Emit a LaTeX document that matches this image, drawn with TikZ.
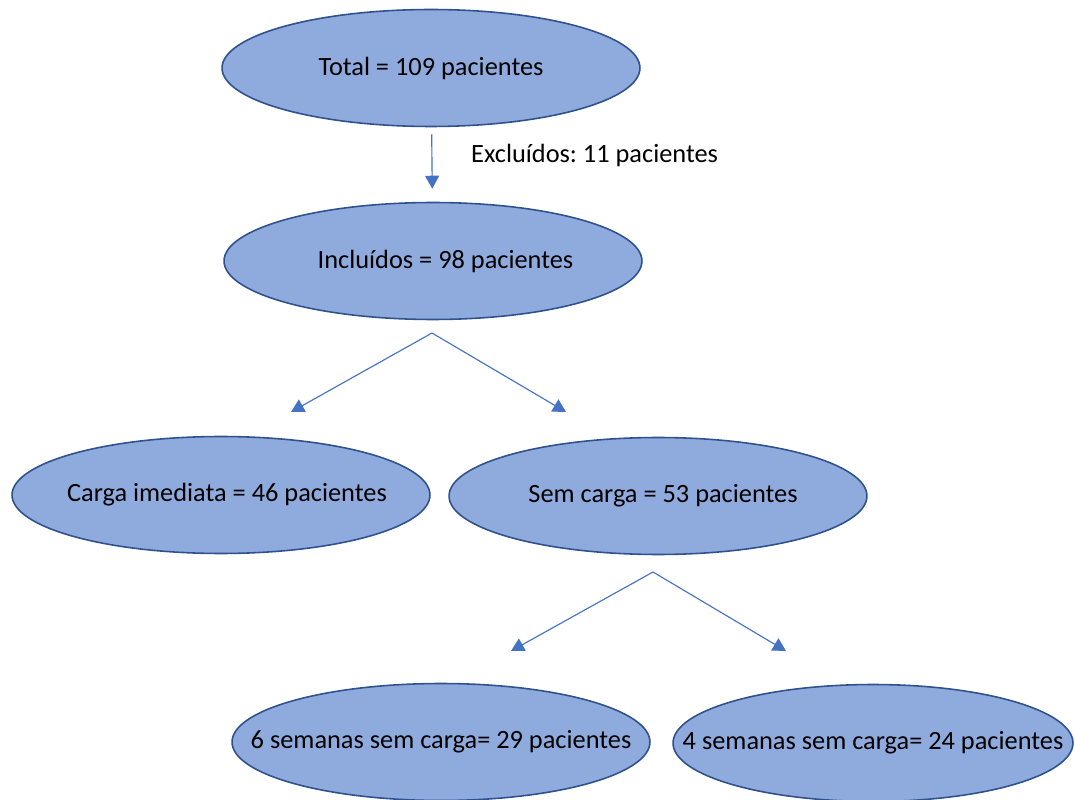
\documentclass[tikz,border=0pt]{standalone}
\usepackage{fontspec}
\setmainfont{Carlito}
\frenchspacing
\usetikzlibrary{shapes.geometric,arrows.meta}
\definecolor{OfficeFill}{HTML}{8FAADC}
\definecolor{OfficeEdge}{HTML}{2F528F}
\definecolor{OfficeBlue}{HTML}{4472C4}

\begin{document}
\begin{tikzpicture}[x=0.02cm,y=-0.02cm,
  grupo/.style={ellipse,draw=OfficeEdge,fill=OfficeFill,line width=0.9pt,
                minimum width=8.36cm,minimum height=2.34cm,inner sep=0pt,
                font=\fontsize{15}{17}\selectfont,
                execute at begin node={\hbox to 0pt\bgroup\hss},
                execute at end node={\hss\egroup}},
  seta/.style={draw=OfficeBlue,line width=0.65pt,
               -{Triangle[width=0.28cm,length=0.26cm]}},
]
\useasboundingbox (0,0) rectangle (1075,800);
\node[grupo] (total) at (431,68) {Total = 109 pacientes};
\node[grupo] (incl) at (433,261) {\hspace*{0.5cm}Incluídos = 98 pacientes};
\node[grupo] (imediata) at (221,495) {\hspace*{0.24cm}Carga imediata = 46 pacientes};
\node[grupo] (semcarga) at (658,496) {\hspace*{0.2cm}Sem carga = 53 pacientes};
\node[grupo] (seis) at (441,742) {6 semanas sem carga= 29 pacientes};
\node[grupo,minimum width=8.0cm] (quatro) at (873,743) {4 semanas sem carga= 24 pacientes};
\node[anchor=west,font=\fontsize{15}{17}\selectfont] (excl) at (465,155) {Excluídos: 11 pacientes};
% ramos sem ponta de partida no contorno
\coordinate (ramo1) at (432,333);
\coordinate (alvo1a) at (291,412);
\coordinate (alvo1b) at (566,412);
\coordinate (ramo2) at (653,572);
\coordinate (alvo2a) at (511,651);
\coordinate (alvo2b) at (786,651);
\draw[seta,shorten <=0.14cm,shorten >=0.26cm] (total) -- (incl);
\draw[seta] (ramo1) -- (alvo1a);
\draw[seta] (ramo1) -- (alvo1b);
\draw[seta] (ramo2) -- (alvo2a);
\draw[seta] (ramo2) -- (alvo2b);
\end{tikzpicture}
\end{document}
